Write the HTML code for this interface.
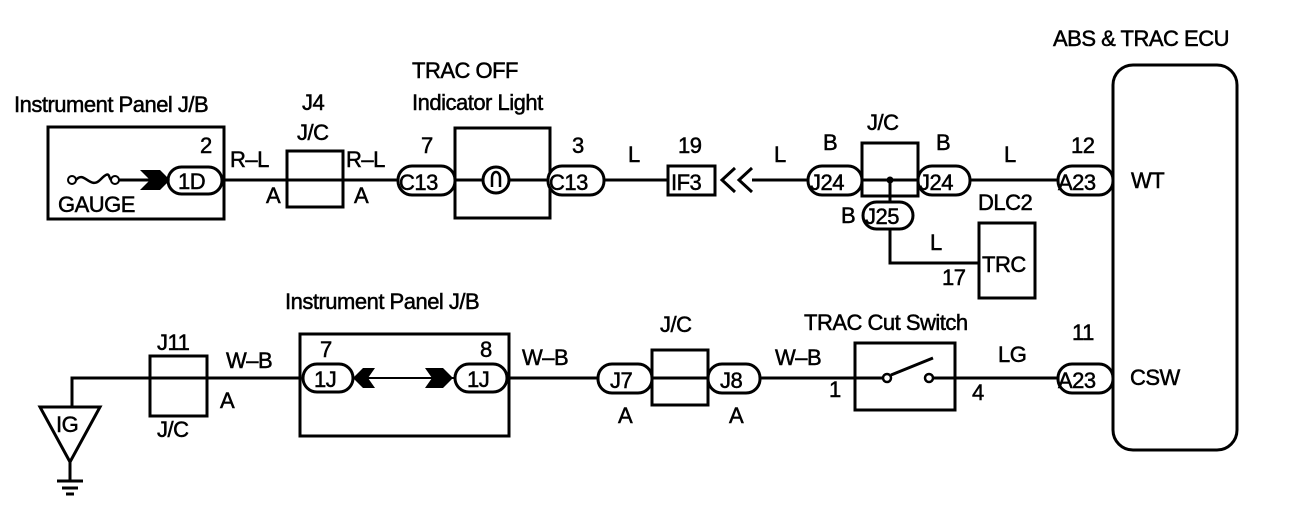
<!DOCTYPE html>
<html><head><meta charset="utf-8"><style>
html,body{margin:0;padding:0;background:#fff;}
svg{display:block;}
text{font-family:"Liberation Sans",sans-serif;font-size:22px;fill:#000;stroke:#000;stroke-width:0.5;letter-spacing:-0.5px;}
</style></head><body>
<svg width="1312" height="518" viewBox="0 0 1312 518" xmlns="http://www.w3.org/2000/svg">
<g fill="none" stroke="#000" stroke-width="3">
<line x1="222" y1="180" x2="398" y2="180"/>
<line x1="455" y1="180" x2="548" y2="180"/>
<line x1="604" y1="180" x2="668" y2="180"/>
<line x1="752" y1="180" x2="808" y2="180"/>
<line x1="862" y1="180" x2="918" y2="180"/>
<line x1="970" y1="180" x2="1058" y2="180"/>
<line x1="890" y1="180" x2="890" y2="202"/>
<polyline points="890,228 890,263 978,263"/>
<rect x="48" y="127" width="176" height="92"/>
<rect x="287" y="151" width="56" height="56"/>
<rect x="455" y="128" width="95" height="90"/>
<rect x="668" y="166" width="47" height="29"/>
<rect x="862" y="143" width="56" height="53"/>
<rect x="979" y="223" width="56" height="75"/>
<rect x="1113" y="65" width="124" height="385" rx="20"/>
<rect x="168" y="167" width="54" height="27" rx="13.5" fill="#fff"/>
<rect x="398" y="166" width="57" height="29" rx="14" fill="#fff"/>
<rect x="548" y="166" width="56" height="29" rx="14" fill="#fff"/>
<rect x="808" y="166" width="54" height="29" rx="14" fill="#fff"/>
<rect x="918" y="166" width="52" height="29" rx="14" fill="#fff"/>
<rect x="1058" y="166" width="55" height="29" rx="14" fill="#fff"/>
<rect x="863" y="202" width="50" height="27" rx="13.5" fill="#fff"/>
<circle cx="496" cy="180" r="13" fill="#fff"/>
<path d="M492,187 L492,178 C492,170 500,170 500,178 L500,187" stroke-width="2.5"/>
<circle cx="72" cy="180" r="4" stroke-width="2"/>
<circle cx="115" cy="180" r="4" stroke-width="2"/>
<path d="M76,180 C84,170 90,190 100,180 S108,176 111,180" stroke-width="2.5"/>
<line x1="119" y1="180" x2="150" y2="180"/>
<polyline points="735,168 722,180 735,192"/>
<polyline points="752,168 739,180 752,192"/>
<polyline points="72,407 72,378 300,378"/>
<line x1="509" y1="378" x2="598" y2="378"/>
<line x1="652" y1="378" x2="708" y2="378"/>
<line x1="760" y1="378" x2="884" y2="378"/>
<line x1="931" y1="378" x2="1058" y2="378"/>
<line x1="345" y1="378" x2="468" y2="378" stroke-width="2"/>
<polygon points="40,407 100,407 70,462"/>
<line x1="70" y1="462" x2="70" y2="480"/>
<line x1="57" y1="481" x2="83" y2="481"/>
<line x1="62" y1="488" x2="78" y2="488"/>
<line x1="66" y1="494" x2="74" y2="494"/>
<rect x="150" y="356" width="57" height="60"/>
<rect x="300" y="334" width="209" height="102"/>
<rect x="652" y="350" width="56" height="55"/>
<rect x="855" y="343" width="100" height="67"/>
<rect x="303" y="364" width="50" height="28" rx="14" fill="#fff"/>
<rect x="455" y="364" width="52" height="28" rx="14" fill="#fff"/>
<rect x="598" y="364" width="54" height="29" rx="14" fill="#fff"/>
<rect x="708" y="364" width="52" height="29" rx="14" fill="#fff"/>
<rect x="1058" y="364" width="55" height="29" rx="14" fill="#fff"/>
<circle cx="887" cy="378" r="4" fill="#fff" stroke-width="2.5"/>
<circle cx="929" cy="378" r="4" fill="#fff" stroke-width="2.5"/>
<line x1="891" y1="375" x2="933" y2="358"/>
</g>
<g fill="#000">
<circle cx="890" cy="180" r="3.5"/>
<polygon points="140,170 160,170 170,180 160,190 140,190 150,180"/>
<polygon points="353,378 363,368 375,368 368,378 375,388 363,388"/>
<polygon points="425,368 443,368 453,378 443,388 425,388 432,378"/>
</g>
<text x="14" y="112">Instrument Panel J/B</text>
<text x="200" y="153">2</text>
<text x="178" y="189">1D</text>
<text x="58" y="212">GAUGE</text>
<text x="230" y="167">R–L</text>
<text x="266" y="203">A</text>
<text x="302" y="110">J4</text>
<text x="297" y="140">J/C</text>
<text x="346" y="167">R–L</text>
<text x="354" y="203">A</text>
<text x="421" y="153">7</text>
<text x="399" y="190">C13</text>
<text x="412" y="78">TRAC OFF</text>
<text x="412" y="110">Indicator Light</text>
<text x="572" y="153">3</text>
<text x="549" y="190">C13</text>
<text x="628" y="162">L</text>
<text x="678" y="153">19</text>
<text x="671" y="190">IF3</text>
<text x="774" y="162">L</text>
<text x="823" y="150">B</text>
<text x="810" y="190">J24</text>
<text x="867" y="130">J/C</text>
<text x="936" y="150">B</text>
<text x="919" y="190">J24</text>
<text x="1004" y="162">L</text>
<text x="1071" y="153">12</text>
<text x="1058" y="190">A23</text>
<text x="1131" y="188">WT</text>
<text x="1053" y="46">ABS &amp; TRAC ECU</text>
<text x="841" y="223">B</text>
<text x="865" y="224">J25</text>
<text x="930" y="250">L</text>
<text x="942" y="285">17</text>
<text x="978" y="210">DLC2</text>
<text x="982" y="272" font-size="19">TRC</text>
<text x="56" y="432" font-size="21">IG</text>
<text x="157" y="350">J11</text>
<text x="157" y="437">J/C</text>
<text x="226" y="368">W–B</text>
<text x="220" y="408">A</text>
<text x="285" y="309">Instrument Panel J/B</text>
<text x="320" y="357">7</text>
<text x="480" y="357">8</text>
<text x="314" y="387">1J</text>
<text x="467" y="387">1J</text>
<text x="522" y="365">W–B</text>
<text x="610" y="388">J7</text>
<text x="618" y="423">A</text>
<text x="660" y="332">J/C</text>
<text x="720" y="388">J8</text>
<text x="729" y="423">A</text>
<text x="775" y="365">W–B</text>
<text x="829" y="397">1</text>
<text x="804" y="330">TRAC Cut Switch</text>
<text x="998" y="362">LG</text>
<text x="972" y="400">4</text>
<text x="1072" y="340">11</text>
<text x="1058" y="388">A23</text>
<text x="1130" y="385">CSW</text>
</svg>
</body></html>
